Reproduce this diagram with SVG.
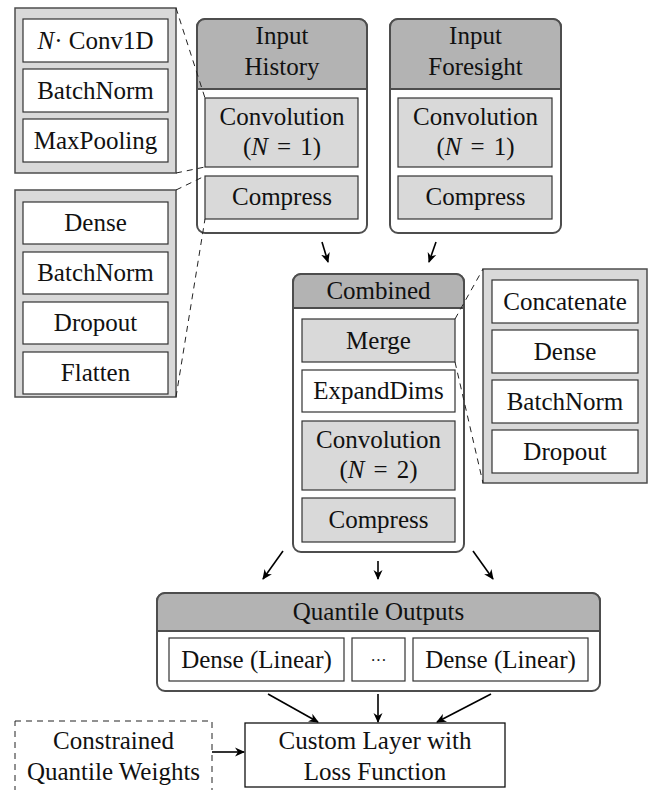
<svg xmlns="http://www.w3.org/2000/svg" width="652" height="790" viewBox="0 0 652 790">
<style>
text{font-family:"Liberation Serif","Times New Roman",serif;font-size:25px;fill:#111;text-anchor:middle}
.i{font-style:italic}
.panel{fill:#d9d9d9;stroke:#4d4d4d;stroke-width:1.5}
.wbox{fill:#fff;stroke:#333;stroke-width:1.2}
.gbox{fill:#d9d9d9;stroke:#333;stroke-width:1.2}
.outer{fill:#fff;stroke:#4d4d4d;stroke-width:2}
.head{fill:#b3b3b3;stroke:#4d4d4d;stroke-width:2}
.dash{fill:none;stroke:#222;stroke-width:1;stroke-dasharray:6,5}
.arr{fill:none;stroke:#000;stroke-width:1.6;marker-end:url(#ah)}
</style>
<defs>
<marker id="ah" viewBox="0 0 10 10" refX="9" refY="5" markerWidth="10" markerHeight="10" markerUnits="userSpaceOnUse" orient="auto">
<path d="M0,0.5 L10,5 L0,9.5 L3,5 z" fill="#000"/>
</marker>
</defs>

<g id="conv-detail">
<rect class="panel" x="15" y="8" width="161" height="165"/>
<rect class="wbox" x="23" y="19" width="145" height="43"/>
<text x="95.5" y="49"><tspan class="i">N</tspan>· Conv1D</text>
<rect class="wbox" x="23" y="69" width="145" height="43"/>
<text x="95.5" y="99">BatchNorm</text>
<rect class="wbox" x="23" y="119" width="145" height="43"/>
<text x="95.5" y="149">MaxPooling</text>
</g>

<g id="compress-detail">
<rect class="panel" x="15" y="190" width="161" height="207"/>
<rect class="wbox" x="23" y="202" width="145" height="42"/>
<text x="95.5" y="231">Dense</text>
<rect class="wbox" x="23" y="252" width="145" height="42"/>
<text x="95.5" y="281">BatchNorm</text>
<rect class="wbox" x="23" y="302" width="145" height="42"/>
<text x="95.5" y="331">Dropout</text>
<rect class="wbox" x="23" y="352" width="145" height="42"/>
<text x="95.5" y="381">Flatten</text>
</g>

<g id="input-history">
<rect class="outer" x="197" y="19" width="170" height="214" rx="8"/>
<path class="head" d="M197,89 V27 A8,8 0 0 1 205,19 H359 A8,8 0 0 1 367,27 V89 Z"/>
<text x="282" y="44">Input</text>
<text x="282" y="75">History</text>
<rect class="gbox" x="205" y="98" width="153" height="69"/>
<text x="282" y="125">Convolution</text>
<text x="282" y="155">(<tspan class="i">N</tspan><tspan dx="9">=</tspan><tspan dx="9">1)</tspan></text>
<rect class="gbox" x="205" y="176" width="153" height="43"/>
<text x="282" y="205">Compress</text>
</g>

<g id="input-foresight">
<rect class="outer" x="390" y="19" width="171" height="214" rx="8"/>
<path class="head" d="M390,89 V27 A8,8 0 0 1 398,19 H553 A8,8 0 0 1 561,27 V89 Z"/>
<text x="475.5" y="44">Input</text>
<text x="475.5" y="75">Foresight</text>
<rect class="gbox" x="398" y="98" width="154" height="69"/>
<text x="475.5" y="125">Convolution</text>
<text x="475.5" y="155">(<tspan class="i">N</tspan><tspan dx="9">=</tspan><tspan dx="9">1)</tspan></text>
<rect class="gbox" x="398" y="176" width="154" height="43"/>
<text x="475.5" y="205">Compress</text>
</g>

<g id="combined">
<rect class="outer" x="293" y="274" width="171" height="278" rx="8"/>
<path class="head" d="M293,308 V282 A8,8 0 0 1 301,274 H456 A8,8 0 0 1 464,282 V308 Z"/>
<text x="378.5" y="299">Combined</text>
<rect class="gbox" x="302" y="319" width="153" height="43"/>
<text x="378.5" y="349">Merge</text>
<rect class="wbox" x="302" y="370" width="153" height="42"/>
<text x="378.5" y="399">ExpandDims</text>
<rect class="gbox" x="302" y="421" width="153" height="69"/>
<text x="378.5" y="448">Convolution</text>
<text x="378.5" y="478">(<tspan class="i">N</tspan><tspan dx="9">=</tspan><tspan dx="9">2)</tspan></text>
<rect class="gbox" x="302" y="498" width="153" height="44"/>
<text x="378.5" y="528">Compress</text>
</g>

<g id="merge-detail">
<rect class="panel" x="483" y="269" width="164" height="214"/>
<rect class="wbox" x="492" y="280" width="146" height="43"/>
<text x="565" y="310">Concatenate</text>
<rect class="wbox" x="492" y="330" width="146" height="43"/>
<text x="565" y="360">Dense</text>
<rect class="wbox" x="492" y="380" width="146" height="43"/>
<text x="565" y="410">BatchNorm</text>
<rect class="wbox" x="492" y="430" width="146" height="43"/>
<text x="565" y="460">Dropout</text>
</g>

<g id="quantile-outputs">
<rect class="outer" x="157" y="593" width="443" height="98" rx="8"/>
<path class="head" d="M157,631 V601 A8,8 0 0 1 165,593 H592 A8,8 0 0 1 600,601 V631 Z"/>
<text x="378.5" y="620">Quantile Outputs</text>
<rect class="wbox" x="169" y="638" width="175" height="43"/>
<text x="256.5" y="668">Dense (Linear)</text>
<rect class="wbox" x="352" y="638" width="53" height="43"/>
<text x="378.5" y="666" style="font-size:16px">···</text>
<rect class="wbox" x="413" y="638" width="175" height="43"/>
<text x="500.5" y="668">Dense (Linear)</text>
</g>

<g id="constrained-weights">
<rect x="15" y="721" width="197" height="75" fill="none" stroke="#222" stroke-width="1" stroke-dasharray="6,5"/>
<text x="113.5" y="749">Constrained</text>
<text x="113.5" y="780">Quantile Weights</text>
</g>

<g id="custom-layer">
<rect x="245" y="723" width="260" height="64" fill="#fff" stroke="#111" stroke-width="1.3"/>
<text x="375" y="749">Custom Layer with</text>
<text x="375" y="780">Loss Function</text>
</g>

<g id="connectors">
<line class="dash" x1="176" y1="8" x2="205" y2="98"/>
<line class="dash" x1="176" y1="173" x2="205" y2="167"/>
<line class="dash" x1="176" y1="190" x2="205" y2="176"/>
<line class="dash" x1="176" y1="397" x2="205" y2="219"/>
<line class="dash" x1="455" y1="319" x2="483" y2="269"/>
<line class="dash" x1="455" y1="362" x2="483" y2="483"/>
<line class="arr" x1="322" y1="242" x2="328" y2="262"/>
<line class="arr" x1="436" y1="242" x2="429" y2="262"/>
<line class="arr" x1="283" y1="551" x2="263" y2="579"/>
<line class="arr" x1="378" y1="561" x2="378" y2="579"/>
<line class="arr" x1="473" y1="551" x2="493" y2="579"/>
<line class="arr" x1="268" y1="694" x2="318" y2="722"/>
<line class="arr" x1="378" y1="694" x2="378" y2="722"/>
<line class="arr" x1="491" y1="694" x2="437" y2="722"/>
<line class="arr" x1="212" y1="752" x2="244" y2="752"/>
</g>
</svg>
